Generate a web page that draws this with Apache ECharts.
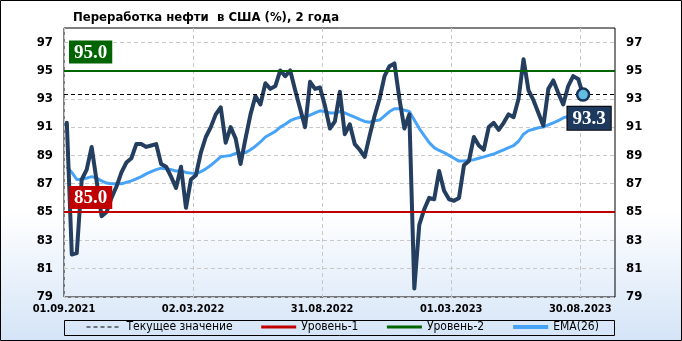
<!DOCTYPE html>
<html><head><meta charset="utf-8">
<script src="https://cdn.jsdelivr.net/npm/echarts@6/dist/echarts.min.js"></script>
<style>html,body{margin:0;padding:0;background:#fff}#c{width:682px;height:341px}</style>
</head><body><div id="c"></div>
<script>
// weekly values, first point ~05.09.2021, last ~01.09.2023
const refining = [
 91.3, 82.0, 82.1, 87.3, 88.0, 89.6, 87.2, 84.7, 85.0, 86.0,
 86.8, 87.8, 88.5, 88.8, 89.8, 89.8, 89.6, 89.7, 89.8, 88.4,
 88.2, 87.5, 86.7, 88.2, 85.3, 87.3, 87.6, 89.2, 90.3, 91.0,
 91.9, 92.4, 89.9, 91.0, 90.2, 88.4, 90.2, 91.9, 93.2, 92.6,
 94.1, 93.7, 93.9, 95.0, 94.6, 95.0, 93.6, 92.3, 91.0, 94.2,
 93.7, 93.8, 92.5, 90.9, 91.4, 93.5, 90.5, 91.2, 89.8, 89.4,
 88.9, 90.4, 91.8, 93.0, 94.6, 95.3, 95.5, 93.0, 90.9, 91.9,
 79.6, 84.1, 85.2, 86.0, 85.9, 87.9, 86.5, 85.9, 85.8, 86.0,
 88.3, 88.6, 90.3, 89.7, 89.4, 91.0, 91.3, 90.8, 91.3, 91.9,
 91.7, 93.0, 95.8, 93.6, 92.9, 92.0, 91.1, 93.7, 94.3, 93.4,
 92.6, 93.9, 94.6, 94.4, 93.3
];
const ema26 = [
 88.2, 87.8, 87.3, 87.3, 87.4, 87.5, 87.4, 87.2, 87.05, 87.0,
 87.0, 87.0, 87.1, 87.2, 87.35, 87.5, 87.7, 87.85, 88.0, 88.1,
 88.05, 88.0, 87.9, 87.9, 87.8, 87.75, 87.7, 87.85, 88.05, 88.3,
 88.6, 88.9, 88.95, 89.0, 89.15, 89.15, 89.2, 89.4, 89.65, 89.95,
 90.3, 90.5, 90.7, 91.0, 91.2, 91.45, 91.6, 91.7, 91.7, 91.85,
 92.0, 92.15, 92.1, 92.0, 92.0, 92.1, 92.0, 91.85, 91.7, 91.55,
 91.4, 91.35, 91.45, 91.5, 91.8, 92.1, 92.3, 92.3, 92.2, 92.1,
 91.5, 90.9, 90.4, 89.9, 89.55, 89.35, 89.2, 89.0, 88.8, 88.6,
 88.6, 88.65, 88.7, 88.8, 88.9, 89.0, 89.1, 89.25, 89.4, 89.55,
 89.7, 90.0, 90.5, 90.75, 90.85, 90.95, 91.0, 91.15, 91.3, 91.45,
 91.65, 91.75, 91.85, 91.95, 92.0
];
const level1 = 85.0;
const level2 = 95.0;
const yTicks = [79, 81, 83, 85, 87, 89, 91, 93, 95, 97];
const xTickDays = [0, 182, 364, 546, 728];
const xStartUTC = Date.UTC(2021, 8, 1);   // 01.09.2021 = day 0
const firstDay = 4, stepDays = 7;
const xMaxDay = 777;
const legendNames = ['Текущее значение', 'Уровень-1', 'Уровень-2', 'EMA(26)'];
const titleText = 'Переработка нефти  в США (%), 2 года';

const days = refining.map((_, i) => firstDay + stepDays * i);
const mainData = refining.map((v, i) => [days[i], v]);
const emaData = ema26.map((v, i) => [days[i], v]);
const lastIdx = refining.length - 1;
const current = refining[lastIdx];

function fmtDay(d) {
  const dt = new Date(xStartUTC + d * 86400000);
  const p = n => String(n).padStart(2, '0');
  return p(dt.getUTCDate()) + '.' + p(dt.getUTCMonth() + 1) + '.' + dt.getUTCFullYear();
}

const FONT = '"DejaVu Sans Condensed", "DejaVu Sans", sans-serif';
const SERIF = '"Liberation Serif", "DejaVu Serif", serif';

const chart = echarts.init(document.getElementById('c'), null, {renderer: 'canvas'});
const yAxisBase = {
  type: 'value', min: 79, max: 98,
  axisLine: {show: false},
  axisTick: {show: false, customValues: yTicks},
  axisLabel: {customValues: yTicks, color: '#000', fontSize: 13, fontWeight: 'bold', fontFamily: FONT, margin: 11}
};
const legendWidths = {'Текущее значение': 1, 'Уровень-1': 3, 'Уровень-2': 3, 'EMA(26)': 4};
chart.setOption({
  animation: false,
  backgroundColor: new echarts.graphic.LinearGradient(0, 0, 0, 1, [
    {offset: 0, color: '#ffffff'}, {offset: 0.62, color: '#ffffff'}, {offset: 1, color: '#d4e4f7'}
  ]),
  title: {
    text: titleText, left: 68, top: 6,
    textStyle: {fontSize: 13, fontWeight: 'bold', fontFamily: FONT, color: '#000'}
  },
  grid: {left: 64, right: 67, top: 28, bottom: 44, show: true, borderColor: '#000', borderWidth: 1, backgroundColor: 'transparent'},
  xAxis: {
    type: 'value', min: 0, max: xMaxDay,
    axisLine: {show: false},
    axisTick: {show: false, customValues: xTickDays},
    axisLabel: {customValues: xTickDays, formatter: v => fmtDay(v), color: '#000', fontSize: 11, fontWeight: 'bold', fontFamily: FONT, margin: 7},
    splitLine: {show: true, lineStyle: {type: [4, 3], color: '#c8c8c8', width: 1}}
  },
  yAxis: [
    Object.assign({}, yAxisBase, {position: 'left', splitLine: {show: true, lineStyle: {type: [4, 3], color: '#c8c8c8', width: 1}}}),
    Object.assign({}, yAxisBase, {position: 'right', splitLine: {show: false}})
  ],
  legend: {
    data: legendNames.map(n => ({name: n, lineStyle: {width: legendWidths[n]}})),
    left: 86, top: 321, padding: 0, itemGap: 27, itemWidth: 35, itemHeight: 14,
    itemStyle: {opacity: 0},
    textStyle: {fontSize: 12, fontFamily: FONT, color: '#000'},
    selectedMode: false
  },
  graphic: [
    {type: 'rect', shape: {x: 0.5, y: 0.5, width: 681, height: 340}, style: {fill: 'none', stroke: '#000', lineWidth: 1}, silent: true, z: 100},
    {type: 'rect', shape: {x: 64.5, y: 320.5, width: 550, height: 15}, style: {fill: 'none', stroke: '#000', lineWidth: 1}, silent: true, z: 100}
  ],
  series: [
    {
      name: 'EMA(26)', type: 'line', data: emaData, showSymbol: false, symbol: 'none', z: 2,
      lineStyle: {color: '#46a3f8', width: 3}, itemStyle: {color: '#46a3f8'}
    },
    {
      name: 'Текущее значение', type: 'line', data: [], symbol: 'none', z: 4,
      lineStyle: {color: '#000', width: 1, type: [4, 3]}, itemStyle: {color: '#000'},
      markLine: {silent: true, symbol: 'none', z: 4, lineStyle: {color: '#000', width: 1, type: [4, 3]},
        label: {show: false}, data: [{yAxis: current}]}
    },
    {
      name: 'Переработка', type: 'line', data: mainData, showSymbol: false, symbol: 'none', z: 3,
      lineStyle: {color: '#243e60', width: 4, join: 'round', cap: 'round'}, itemStyle: {color: '#243e60'},
      markPoint: {
        silent: true, symbol: 'circle', symbolSize: 12, z: 12,
        itemStyle: {color: '#63bde0', borderColor: '#17335a', borderWidth: 2.5},
        label: {show: true, position: 'bottom', distance: 5, offset: [6, 0], formatter: () => current.toFixed(1),
          backgroundColor: '#1d3a5e', borderColor: '#000', borderWidth: 1, padding: [3, 5, 1, 5],
          color: '#fff', fontSize: 19, fontWeight: 'bold', fontFamily: SERIF},
        data: [{coord: mainData[lastIdx]}]
      }
    },
    {
      name: 'Уровень-1', type: 'line', data: [], symbol: 'none', z: 6,
      lineStyle: {color: '#c00000', width: 2}, itemStyle: {color: '#c00000'},
      markLine: {silent: true, symbol: 'none', z: 10, lineStyle: {color: '#c00000', width: 2, type: 'solid'},
        label: {show: true, position: 'insideStartTop', distance: [5, 3], formatter: () => level1.toFixed(1),
          backgroundColor: '#c00000', padding: [3, 5, 1, 5], color: '#fff', fontSize: 19, fontWeight: 'bold', fontFamily: SERIF},
        data: [{yAxis: level1}]}
    },
    {
      name: 'Уровень-2', type: 'line', data: [], symbol: 'none', z: 6,
      lineStyle: {color: '#006400', width: 2}, itemStyle: {color: '#006400'},
      markLine: {silent: true, symbol: 'none', z: 10, lineStyle: {color: '#006400', width: 2, type: 'solid'},
        label: {show: true, position: 'insideStartTop', distance: [5, 7], formatter: () => level2.toFixed(1),
          backgroundColor: '#006400', padding: [3, 5, 1, 5], color: '#fff', fontSize: 19, fontWeight: 'bold', fontFamily: SERIF},
        data: [{yAxis: level2}]}
    }
  ]
});
</script></body></html>
